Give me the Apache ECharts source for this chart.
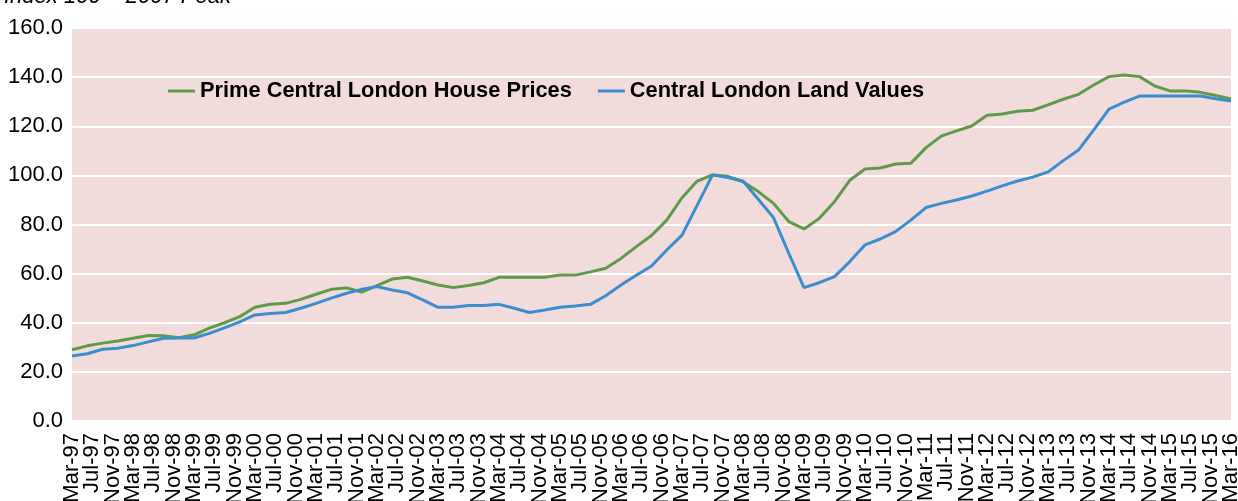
<!DOCTYPE html>
<html>
<head>
<meta charset="utf-8">
<script src="https://cdn.jsdelivr.net/npm/echarts@6/dist/echarts.min.js"></script>
<style>
  html, body { margin: 0; padding: 0; background: #fff; }
  #chart { width: 1238px; height: 501px; }
</style>
</head>
<body>
<div id="chart"></div>
<script>
// quarterly readings, Mar-97 .. Mar-16
const primeHousePrices = [
  29.0, 30.6, 31.7, 32.6, 33.7, 34.8, 34.7, 33.9, 35.1, 37.8, 40.0, 42.5,
  46.3, 47.5, 47.9, 49.5, 51.6, 53.6, 54.2, 52.5, 55.1, 57.8, 58.5, 57.0,
  55.4, 54.3, 55.2, 56.3, 58.5, 58.5, 58.5, 58.5, 59.4, 59.4, 60.7, 62.2,
  66.2, 71.0, 75.5, 81.8, 90.9, 97.7, 100.2, 99.6, 97.4, 93.4, 88.6, 81.2,
  78.2, 82.5, 89.3, 98.0, 102.6, 103.0, 104.6, 104.9, 111.3, 116.0, 118.1, 120.1,
  124.5, 125.0, 126.1, 126.5, 128.7, 131.0, 133.0, 136.8, 140.2, 140.9, 140.2, 136.4,
  134.4, 134.4, 133.8, 132.5, 131.1
];
const landValues = [
  26.5, 27.4, 29.2, 29.6, 30.7, 32.2, 33.7, 33.8, 33.8, 35.7, 37.9, 40.4,
  43.2, 43.8, 44.2, 45.9, 47.9, 50.0, 52.0, 53.6, 54.7, 53.3, 52.2, 49.3,
  46.3, 46.3, 47.0, 47.0, 47.5, 45.9, 44.2, 45.2, 46.3, 46.8, 47.5, 51.0,
  55.4, 59.3, 63.1, 69.6, 75.7, 87.9, 100.2, 99.1, 97.7, 90.3, 82.8, 68.3,
  54.3, 56.3, 58.8, 64.9, 71.7, 74.1, 77.1, 81.8, 86.9, 88.6, 90.0, 91.6,
  93.6, 95.7, 97.7, 99.3, 101.4, 106.0, 110.3, 118.5, 127.0, 129.8, 132.3, 132.3,
  132.3, 132.3, 132.3, 131.2, 130.3
];
const monthNames = ['Jan', 'Feb', 'Mar', 'Apr', 'May', 'Jun', 'Jul', 'Aug', 'Sep', 'Oct', 'Nov', 'Dec'];
const yTicks = [0, 20, 40, 60, 80, 100, 120, 140, 160];

// monthly categories, quarterly points on every third month
const months = [];
const houseSeries = [];
const landSeries = [];
for (let m = 0; m <= 228; m++) {
  const abs = 2 + m; // Mar 1997 = month 2 of 1997
  const yr = 1997 + Math.floor(abs / 12);
  months.push(monthNames[abs % 12] + '-' + String(yr % 100).padStart(2, '0'));
  const q = m / 3;
  houseSeries.push(m % 3 === 0 ? primeHousePrices[q] : null);
  landSeries.push(m % 3 === 0 ? landValues[q] : null);
}

const font = '"Liberation Sans", Arial, sans-serif';
const chart = echarts.init(document.getElementById('chart'));
chart.setOption({
  animation: false,
  title: {
    text: 'Index 100 = 2007 Peak',
    left: -1,
    top: -19,
    textStyle: { fontFamily: font, fontSize: 22, fontStyle: 'italic', fontWeight: 'normal', color: '#000' }
  },
  legend: {
    left: 168,
    top: 80,
    padding: 0,
    icon: 'rect',
    itemWidth: 27,
    itemHeight: 3,
    itemGap: 26,
    textStyle: { fontFamily: font, fontSize: 21.8, fontWeight: 'bold', color: '#000' },
    data: ['Prime Central London House Prices', 'Central London Land Values']
  },
  grid: {
    left: 72,
    right: 7,
    top: 28,
    bottom: 80,
    outerBoundsMode: 'none',
    show: true,
    backgroundColor: '#f2dcdb',
    borderWidth: 0
  },
  xAxis: {
    type: 'category',
    data: months,
    boundaryGap: false,
    axisLine: { show: false },
    axisTick: { show: false },
    axisLabel: {
      // every label drawn, only each 4th month has text
      interval: 0,
      formatter: (v, i) => (i % 4 === 0 ? v : ''),
      rotate: 90,
      margin: 12,
      fontFamily: font,
      fontSize: 22,
      color: '#000'
    }
  },
  yAxis: {
    type: 'value',
    min: yTicks[0],
    max: yTicks[yTicks.length - 1],
    interval: 20,
    axisLine: { show: false },
    axisTick: { show: false },
    splitLine: { lineStyle: { color: '#ffffff', width: 2 } },
    axisLabel: {
      margin: 9,
      fontFamily: font,
      fontSize: 22,
      color: '#000',
      formatter: (v) => v.toFixed(1)
    }
  },
  series: [
    {
      name: 'Prime Central London House Prices',
      type: 'line',
      data: houseSeries,
      connectNulls: true,
      showSymbol: false,
      symbol: 'none',
      itemStyle: { color: '#5f9a4a' },
      lineStyle: { color: '#5f9a4a', width: 3 }
    },
    {
      name: 'Central London Land Values',
      type: 'line',
      data: landSeries,
      connectNulls: true,
      showSymbol: false,
      symbol: 'none',
      itemStyle: { color: '#3a8dce' },
      lineStyle: { color: '#3a8dce', width: 3 }
    }
  ]
});
</script>
</body>
</html>
